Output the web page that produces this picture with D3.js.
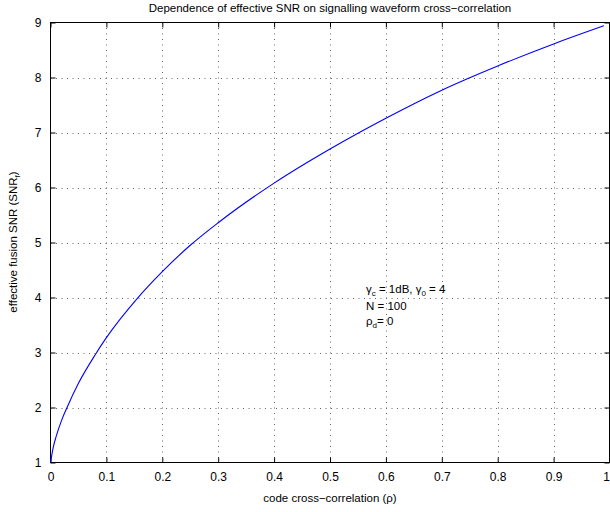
<!DOCTYPE html>
<html>
<head>
<meta charset="utf-8">
<script src="https://cdn.jsdelivr.net/npm/d3@7"></script>
<style>
  body { margin: 0; background: #fff; }
  text { font-family: "Liberation Sans", Arial, sans-serif; fill: #000; }
</style>
</head>
<body>
<div id="plot"></div>
<script>
// chart values
const rho = [0, 0.005, 0.01, 0.02, 0.03, 0.05, 0.08, 0.1, 0.155, 0.2, 0.25, 0.3,
             0.4, 0.5, 0.6, 0.7, 0.8, 0.9, 0.99];
const snr = [1, 1.28, 1.47, 1.77, 2.01, 2.44, 2.96, 3.27, 3.98, 4.47, 4.95, 5.36,
             6.08, 6.7, 7.26, 7.77, 8.21, 8.61, 8.94];
const xTicks = [0, 0.1, 0.2, 0.3, 0.4, 0.5, 0.6, 0.7, 0.8, 0.9, 1];
const yTicks = [1, 2, 3, 4, 5, 6, 7, 8, 9];

const width = 610, height = 512;
const mLeft = 50.5, mRight = 609.5, mTop = 22.5, mBottom = 462.5;

const svg = d3.select("#plot")
  .append("svg")
    .attr("width", width)
    .attr("height", height);

const x = d3.scaleLinear().domain([0, 1]).range([mLeft, mRight]);
const y = d3.scaleLinear().domain([1, 9]).range([mBottom, mTop]);

// dotted grid
const grid = svg.append("g")
  .attr("stroke", "#666")
  .attr("stroke-width", 1)
  .attr("stroke-dasharray", "1,4.5");
grid.selectAll("line.gx")
  .data(xTicks.slice(1, -1))
  .join("line")
    .attr("class", "gx")
    .attr("x1", d => Math.round(x(d)) + 0.5).attr("x2", d => Math.round(x(d)) + 0.5)
    .attr("y1", mTop).attr("y2", mBottom);
grid.selectAll("line.gy")
  .data(yTicks.slice(1, -1))
  .join("line")
    .attr("class", "gy")
    .attr("y1", d => Math.round(y(d)) + 0.5).attr("y2", d => Math.round(y(d)) + 0.5)
    .attr("x1", mLeft).attr("x2", mRight);

// axes with inward ticks, MATLAB style
const xAxis = svg.append("g")
  .attr("transform", `translate(0,${mBottom})`)
  .call(d3.axisBottom(x).tickValues(xTicks).tickSizeInner(-5).tickSizeOuter(0).tickPadding(10)
    .tickFormat(d3.format("")));
svg.append("g")
  .attr("transform", `translate(0,${mTop})`)
  .call(d3.axisTop(x).tickValues(xTicks).tickSizeInner(-5).tickSizeOuter(0).tickFormat(""));
const yAxis = svg.append("g")
  .attr("transform", `translate(${mLeft},0)`)
  .call(d3.axisLeft(y).tickValues(yTicks).tickSizeInner(-5).tickSizeOuter(0).tickPadding(9));
svg.append("g")
  .attr("transform", `translate(${mRight},0)`)
  .call(d3.axisRight(y).tickValues(yTicks).tickSizeInner(-5).tickSizeOuter(0).tickFormat(""));

svg.selectAll(".domain").remove();
svg.selectAll(".tick line").attr("stroke", "#000");
xAxis.selectAll("text").style("font-size", "12px");
yAxis.selectAll("text").style("font-size", "12px");
// last x label sits on the window edge; nudge it inside
xAxis.selectAll(".tick text").filter(d => d === 1).attr("text-anchor", "end");

// box
svg.append("rect")
  .attr("x", mLeft).attr("y", mTop)
  .attr("width", mRight - mLeft).attr("height", mBottom - mTop)
  .attr("fill", "none").attr("stroke", "#000").attr("stroke-width", 1);

// curve
const line = d3.line()
  .x((d, i) => x(rho[i]))
  .y(d => y(d))
  .curve(d3.curveMonotoneX);
svg.append("path")
  .datum(snr)
  .attr("d", line)
  .attr("fill", "none")
  .attr("stroke", "#0000ff")
  .attr("stroke-width", 1.1);

// title and axis labels
svg.append("text")
  .attr("x", 330).attr("y", 12)
  .attr("text-anchor", "middle")
  .style("font-size", "11.5px")
  .text("Dependence of effective SNR on signalling waveform cross\u2212correlation");

svg.append("text")
  .attr("x", 330).attr("y", 502)
  .attr("text-anchor", "middle")
  .style("font-size", "11.5px")
  .text("code cross\u2212correlation (\u03c1)");

const yl = svg.append("text")
  .attr("transform", "translate(17,242) rotate(-90)")
  .attr("text-anchor", "middle")
  .style("font-size", "11.5px");
yl.append("tspan").text("effective fusion SNR (SNR");
yl.append("tspan").attr("dy", 3).style("font-size", "8px").text("f");
yl.append("tspan").attr("dy", -3).text(")");

// annotation
const ann = svg.append("g").style("font-size", "11.5px");
const t1 = ann.append("text").attr("x", 366).attr("y", 293);
t1.append("tspan").text("\u03b3");
t1.append("tspan").attr("dy", 3).style("font-size", "8px").text("c");
t1.append("tspan").attr("dy", -3).text(" = 1dB, \u03b3");
t1.append("tspan").attr("dy", 3).style("font-size", "8px").text("0");
t1.append("tspan").attr("dy", -3).text(" = 4");
ann.append("text").attr("x", 366).attr("y", 310).text("N = 100");
const t3 = ann.append("text").attr("x", 366).attr("y", 325);
t3.append("tspan").text("\u03c1");
t3.append("tspan").attr("dy", 3).style("font-size", "8px").text("d");
t3.append("tspan").attr("dy", -3).text("= 0");
</script>
</body>
</html>
